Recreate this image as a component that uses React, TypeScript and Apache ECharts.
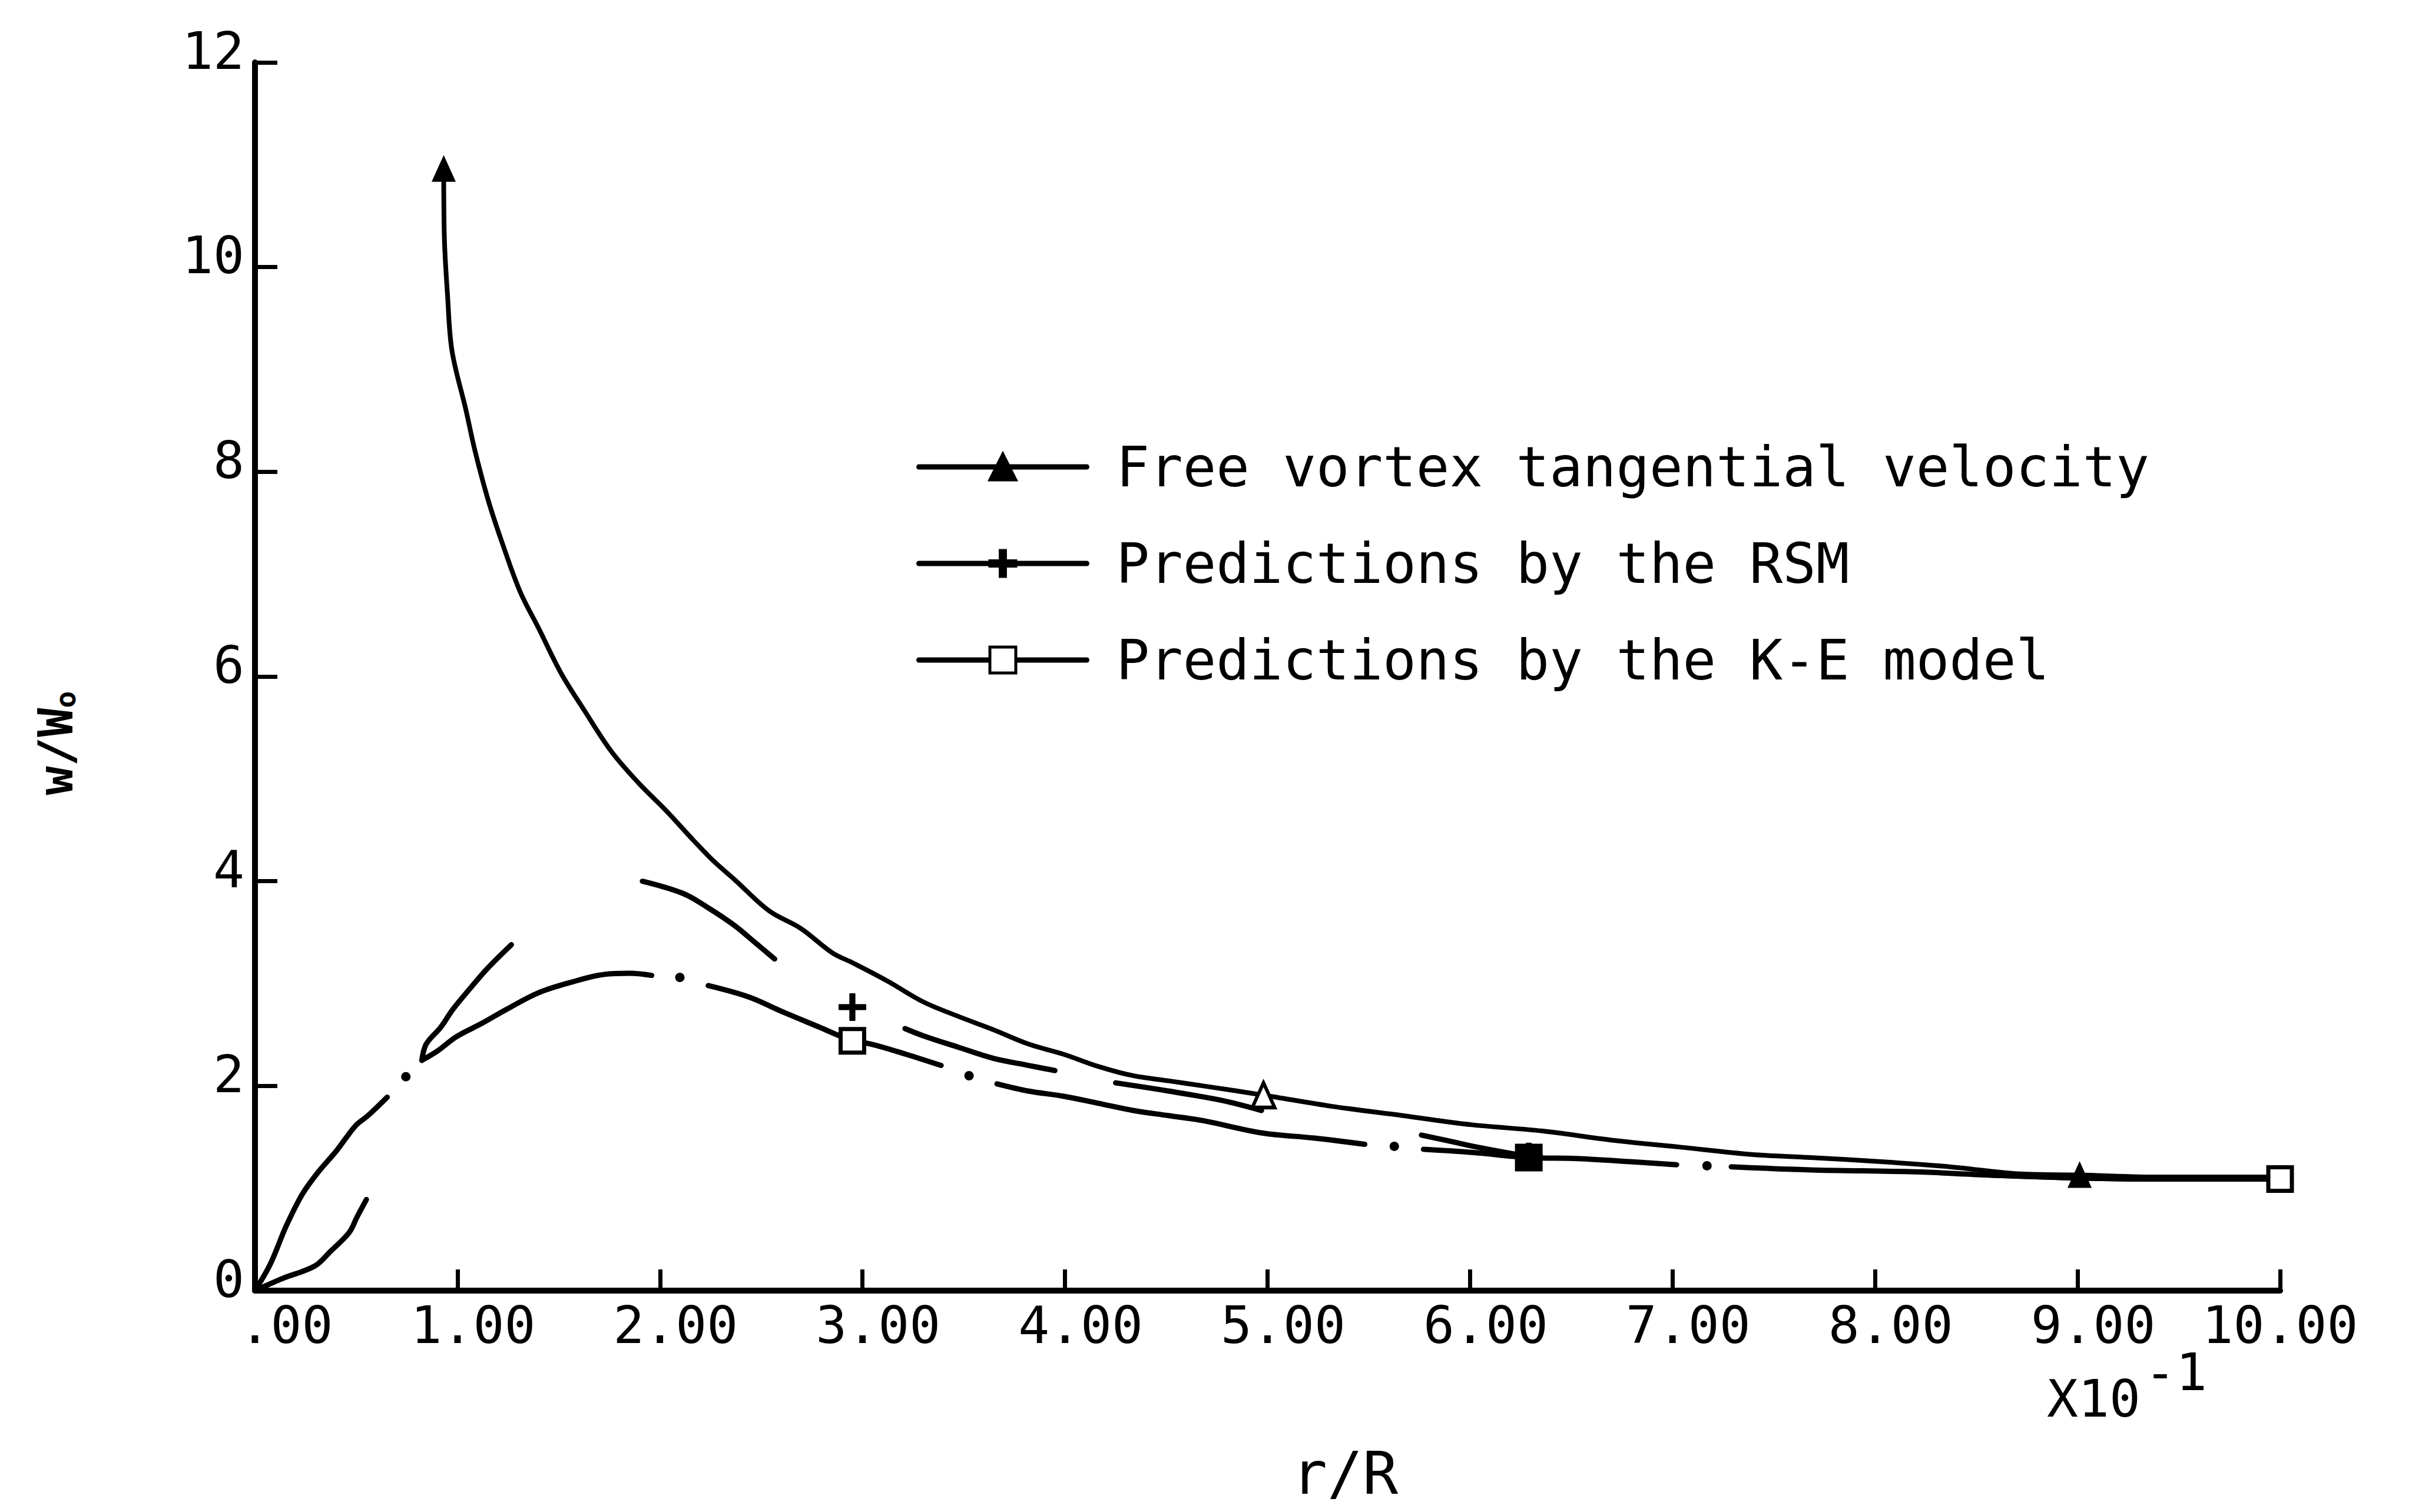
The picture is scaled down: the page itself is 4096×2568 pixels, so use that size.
import React, { useEffect, useRef } from "react";
import * as echarts from "echarts";

// ---------- data (r/R in units of 10^-1, w/Wo) ----------
const seriesNames = [
  "Free vortex tangential velocity",
  "Predictions by the RSM",
  "Predictions by the K-E model",
];

// Free vortex tangential velocity (solid)
const fvR = [0.932, 0.935, 0.951, 0.973, 1.041, 1.087, 1.152, 1.22, 1.309, 1.401, 1.512, 1.626, 1.759, 1.894, 2.03, 2.165, 2.263, 2.366, 2.539, 2.694, 2.851, 2.954, 3.127, 3.301, 3.472, 3.645, 3.818, 3.992, 4.165, 4.336, 4.51, 4.683, 4.98, 5.32, 5.667, 6.01, 6.355, 6.7, 7.046, 7.39, 7.68, 8.03, 8.37, 8.72, 9.01, 9.41, 10.0];
const fvW = [10.96, 10.3, 9.72, 9.18, 8.61, 8.2, 7.72, 7.31, 6.83, 6.47, 6.03, 5.67, 5.27, 4.96, 4.69, 4.4, 4.2, 4.02, 3.71, 3.54, 3.3, 3.2, 3.02, 2.82, 2.68, 2.55, 2.41, 2.31, 2.19, 2.1, 2.05, 2.0, 1.91, 1.8, 1.71, 1.62, 1.56, 1.47, 1.4, 1.33, 1.3, 1.26, 1.21, 1.14, 1.13, 1.11, 1.11];
const fvMarks = [0.932, 4.98, 9.01];
const fvHollow = [4.98];

// Predictions by the RSM (long dashes; null = pen up)
const rsmR = [0, 0.138, 0.295, 0.371, 0.466, 0.504, 0.55, null, 0.824, 0.846, 0.916, 0.978, 1.057, 1.149, 1.266, null, 1.913, 2.114, 2.238, 2.366, 2.47, 2.566, null, 2.95, null, 3.21, 3.3, 3.47, 3.645, 3.82, 3.95, null, 4.25, 4.51, 4.77, 4.97, null, 5.76, 5.9, 6.04, 6.29, null, 8.55, 9.01, 9.41, 10.0];
const rsmW = [0, 0.12, 0.24, 0.38, 0.57, 0.72, 0.89, null, 2.25, 2.41, 2.57, 2.75, 2.94, 3.15, 3.38, null, 4.0, 3.88, 3.74, 3.57, 3.4, 3.24, null, 2.77, null, 2.56, 2.49, 2.38, 2.27, 2.2, 2.15, null, 2.03, 1.95, 1.86, 1.76, null, 1.52, 1.46, 1.4, 1.31, null, 1.13, 1.1, 1.09, 1.09];
const rsmMarks = [2.95, 6.29];

// Predictions by the K-E model (dash-dot; null = pen up, isolated point = dot)
const keR = [0, 0.076, 0.154, 0.233, 0.309, 0.404, 0.496, 0.558, 0.653, null, 0.745, null, 0.824, 0.9, 0.994, 1.119, 1.244, 1.4, 1.556, 1.726, 1.85, 1.959, null, 2.098, null, 2.238, 2.436, 2.61, 2.78, 2.95, 3.04, 3.214, 3.388, null, 3.526, null, 3.664, 3.818, 3.99, 4.165, 4.336, 4.51, 4.683, 4.973, 5.233, 5.48, null, 5.626, null, 5.77, 6.01, 6.29, 6.53, 6.79, 7.02, null, 7.17, null, 7.29, 7.68, 8.2, 8.55, 9.01, 9.41, 10.0];
const keW = [0, 0.26, 0.63, 0.94, 1.15, 1.37, 1.61, 1.71, 1.89, null, 2.09, null, 2.25, 2.34, 2.48, 2.61, 2.75, 2.91, 3.01, 3.09, 3.1, 3.08, null, 3.06, null, 2.98, 2.87, 2.72, 2.58, 2.44, 2.41, 2.31, 2.2, null, 2.1, null, 2.02, 1.95, 1.9, 1.83, 1.76, 1.71, 1.66, 1.54, 1.49, 1.43, null, 1.41, null, 1.38, 1.35, 1.3, 1.29, 1.26, 1.23, null, 1.22, null, 1.21, 1.18, 1.16, 1.13, 1.1, 1.09, 1.09];
const keMarks = [2.95, 6.29, 10.0];
const keFilled = [6.29];

const yTickLabels = ["0", "2", "4", "6", "8", "10", "12"];

// ---------- styling ----------
const FONT = '"DejaVu Sans Mono", monospace';
const BLACK = "#000";
const PITCH = 53; // monospace advance at 88px

function buildData(
  rs: (number | null)[],
  ws: (number | null)[],
  marks: number[],
  markOverride: (r: number) => any
) {
  return rs.map((r, i) => {
    if (r === null || ws[i] === null) return { value: ["-", "-"], symbol: "none" };
    const prevBreak = i > 0 && rs[i - 1] === null;
    const nextBreak = i < rs.length - 1 && rs[i + 1] === null;
    if (marks.includes(r)) {
      const o = markOverride(r);
      return o ? { value: [r, ws[i]], ...o } : { value: [r, ws[i]] };
    }
    if (prevBreak && nextBreak) {
      return {
        value: [r, ws[i]],
        symbol: "circle",
        symbolSize: 16,
        itemStyle: { color: BLACK, borderWidth: 0 },
      };
    }
    return { value: [r, ws[i]], symbol: "none" };
  });
}

export default function App() {
  const ref = useRef<HTMLDivElement>(null);

  useEffect(() => {
    if (!ref.current) return;
    const chart = echarts.init(ref.current, null, { renderer: "svg" });

    const labelFont = { fontFamily: FONT, fontSize: 88, color: BLACK, lineHeight: 88 };

    const option: any = {
      animation: false,
      backgroundColor: "#fff",
      grid: { left: 433, right: 224, top: 106, bottom: 376, containLabel: false },
      xAxis: {
        type: "value",
        min: 0,
        max: 10,
        interval: 1,
        axisLine: { show: true, onZero: false, lineStyle: { color: BLACK, width: 10 } },
        axisTick: { show: true, inside: true, length: 36, lineStyle: { color: BLACK, width: 7 } },
        splitLine: { show: false },
        axisLabel: {
          margin: 14,
          ...labelFont,
          formatter: (v: number) => {
            if (v === 0) return "{p2|.00}";
            if (v < 10) return "{p1|" + v.toFixed(2) + "}";
            return "{p0|" + v.toFixed(2) + "}";
          },
          rich: {
            p2: { ...labelFont, padding: [0, 0, 0, 2 * PITCH] },
            p1: { ...labelFont, padding: [0, 0, 0, PITCH] },
            p0: { ...labelFont },
          },
        },
      },
      yAxis: {
        type: "value",
        min: 0,
        max: 12,
        interval: 2,
        axisLine: { show: true, onZero: false, lineStyle: { color: BLACK, width: 10 } },
        axisTick: { show: true, inside: true, length: 38, lineStyle: { color: BLACK, width: 7 } },
        splitLine: { show: false },
        axisLabel: {
          margin: 18,
          align: "right",
          verticalAlign: "bottom",
          fontFamily: FONT,
          fontSize: 88,
          lineHeight: 40,
          color: BLACK,
          formatter: (v: number) => yTickLabels[Math.round(v / 2)] ?? String(v),
        },
      },
      legend: {
        orient: "vertical",
        left: 1556,
        top: 743,
        padding: 0,
        itemWidth: 285,
        itemHeight: 55,
        itemGap: 64,
        selectedMode: false,
        data: seriesNames,
        textStyle: {
          fontFamily: FONT,
          fontSize: 94,
          color: BLACK,
          lineHeight: 100,
          padding: [0, 0, 0, 45],
        },
        lineStyle: { type: "solid", width: 9, color: BLACK },
        itemStyle: { borderWidth: 5, borderColor: BLACK },
      },
      graphic: [
        {
          type: "text",
          x: 2284,
          y: 2502,
          style: {
            text: "r/R",
            fontFamily: FONT,
            fontSize: 100,
            fill: BLACK,
            align: "center",
            verticalAlign: "middle",
          },
        },
        {
          type: "text",
          x: 3476,
          y: 2375,
          style: {
            text: "X10",
            fontFamily: FONT,
            fontSize: 88,
            fill: BLACK,
            align: "left",
            verticalAlign: "middle",
          },
        },
        {
          type: "text",
          x: 3642,
          y: 2330,
          style: {
            text: "-1",
            fontFamily: FONT,
            fontSize: 88,
            fill: BLACK,
            align: "left",
            verticalAlign: "middle",
          },
        },
        {
          type: "text",
          x: 94,
          y: 1262,
          rotation: Math.PI / 2,
          style: {
            text: "w/W{s|o}",
            fontFamily: FONT,
            fontSize: 82,
            fontWeight: "bold",
            fill: BLACK,
            align: "center",
            verticalAlign: "middle",
            rich: {
              s: { fontFamily: FONT, fontSize: 48, fontWeight: "bold", fill: BLACK, verticalAlign: "bottom", lineHeight: 48 },
            },
          },
        },
      ],
      series: [
        {
          name: seriesNames[0],
          type: "line",
          smooth: 0.35,
          symbol: "triangle",
          symbolSize: [38, 42],
          showSymbol: true,
          lineStyle: { color: BLACK, width: 8, cap: "round", join: "round" },
          itemStyle: { color: BLACK, borderColor: BLACK, borderWidth: 2 },
          emphasis: { disabled: true },
          data: buildData(fvR, fvW, fvMarks, (r) =>
            fvHollow.includes(r)
              ? { itemStyle: { color: "#fff", borderColor: BLACK, borderWidth: 6 } }
              : null
          ),
          z: 3,
        },
        {
          name: seriesNames[1],
          type: "line",
          smooth: 0.35,
          symbol: "path://M-2,-10H2V-2H10V2H2V10H-2V2H-10V-2H-2Z",
          symbolSize: 46,
          showSymbol: true,
          lineStyle: { color: BLACK, width: 9, cap: "round", join: "round" },
          itemStyle: { color: BLACK, borderColor: BLACK, borderWidth: 1 },
          emphasis: { disabled: true },
          data: buildData(rsmR, rsmW, rsmMarks, () => null),
          z: 4,
        },
        {
          name: seriesNames[2],
          type: "line",
          smooth: 0.35,
          symbol: "rect",
          symbolSize: 40,
          showSymbol: true,
          lineStyle: { color: BLACK, width: 9, cap: "round", join: "round" },
          itemStyle: { color: "#fff", borderColor: BLACK, borderWidth: 7 },
          emphasis: { disabled: true },
          data: buildData(keR, keW, keMarks, (r) =>
            keFilled.includes(r)
              ? { itemStyle: { color: BLACK, borderColor: BLACK, borderWidth: 7 } }
              : null
          ),
          z: 5,
        },
      ],
    };

    chart.setOption(option);
    return () => chart.dispose();
  }, []);

  return (
    <div
      ref={ref}
      style={{ position: "fixed", left: 0, top: 0, width: 4096, height: 2568, background: "#fff" }}
    />
  );
}
